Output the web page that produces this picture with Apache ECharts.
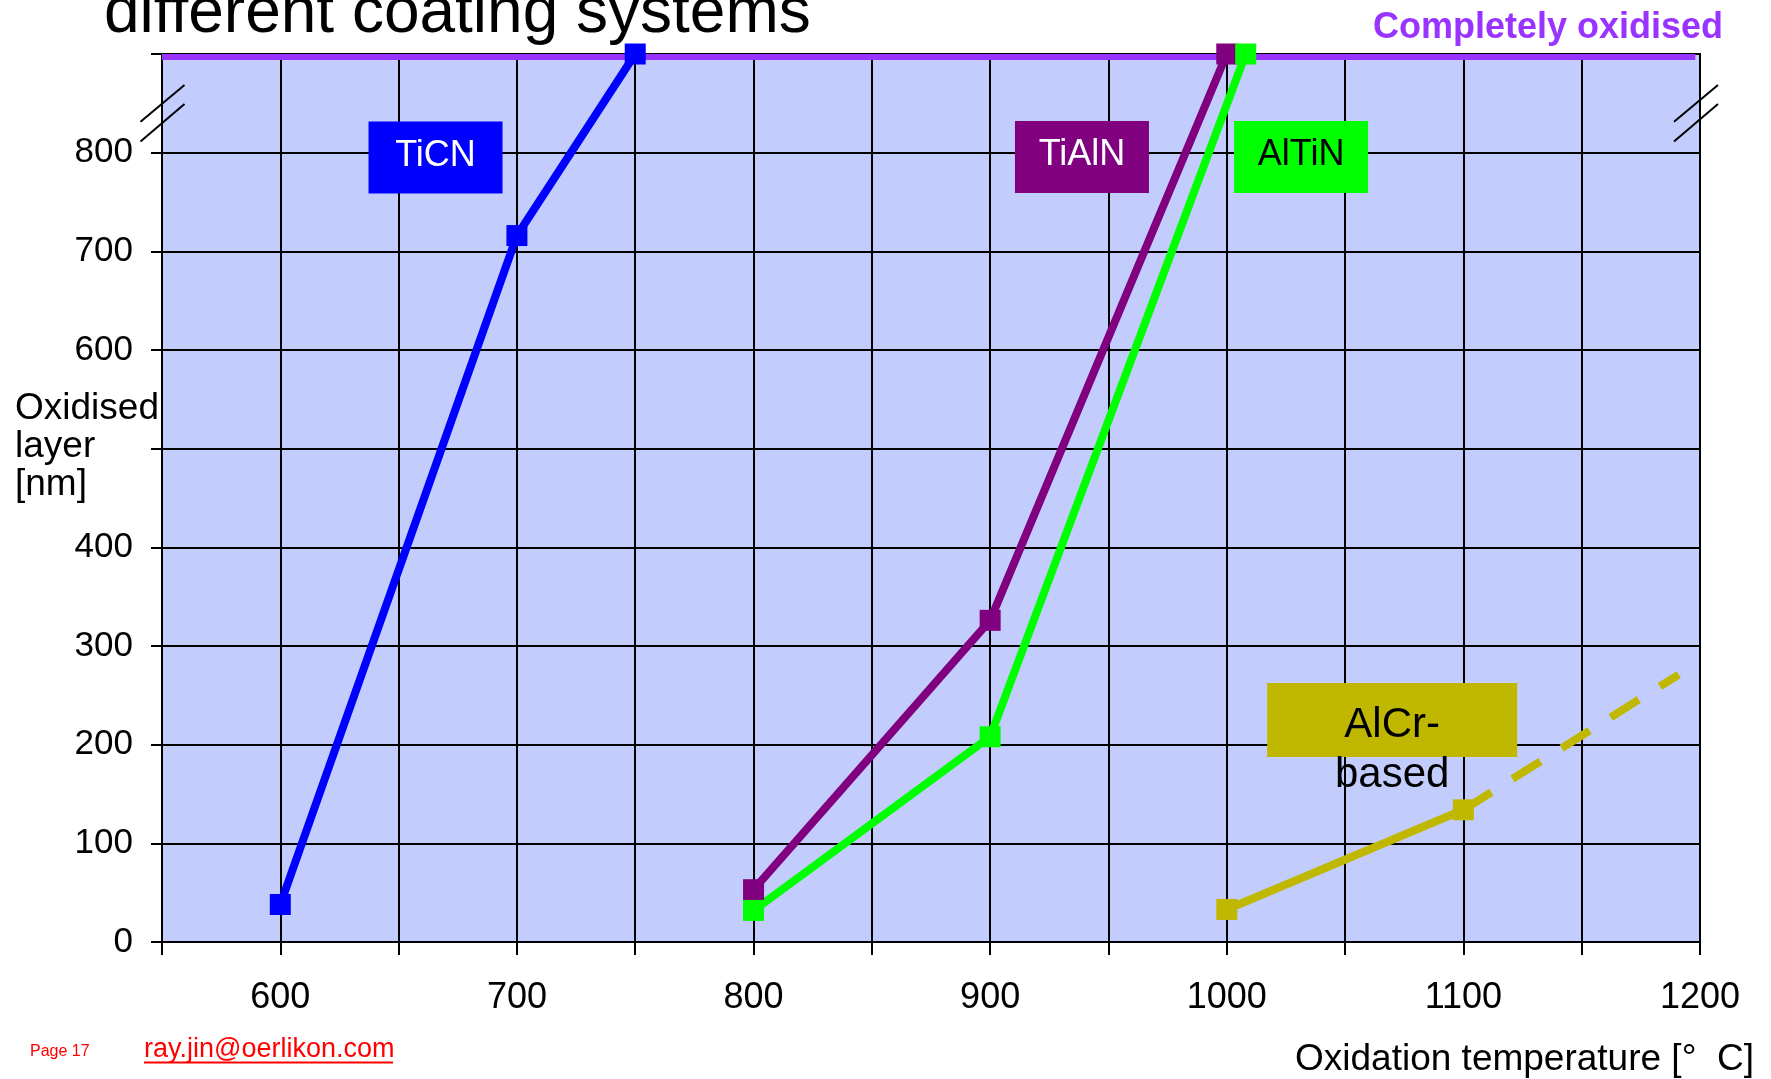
<!DOCTYPE html>
<html>
<head>
<meta charset="utf-8">
<script src="https://cdn.jsdelivr.net/npm/echarts@6/dist/echarts.min.js"></script>
<style>
  html, body { margin: 0; padding: 0; background: #ffffff; }
  #chart { width: 1771px; height: 1079px; }
</style>
</head>
<body>
<div id="chart"></div>
<script>
// Oxidation temperature (°C) against oxidised layer thickness (nm) for each coating
const ticnTemp = [600, 700, 750];
const ticnLayer = [38, 716, 900];
const tialnTemp = [800, 900, 1000];
const tialnLayer = [53, 326, 900];
const altinTemp = [800, 900, 1008];
const altinLayer = [32, 208, 900];
const alcrTemp = [1000, 1100];
const alcrLayer = [33, 134];
// extrapolated AlCr trend, drawn dashed
const alcrTrendTemp = [1100, 1191];
const alcrTrendLayer = [134, 271];
// "Completely oxidised" limit line
const limitTemp = [550, 1198];
const limitLayer = [897, 897];
// tick labels that are printed on each axis
const xTickLabels = [600, 700, 800, 900, 1000, 1100, 1200];
const yTickLabels = [0, 100, 200, 300, 400, 600, 700, 800];
const coatingNames = ['TiCN', 'TiAlN', 'AlTiN', 'AlCr-\nbased'];

const FONT = '"Liberation Sans", Arial, Helvetica, sans-serif';
const pairs = (xs, ys) => xs.map((x, i) => [x, ys[i]]);

const chart = echarts.init(document.getElementById('chart'), null, { renderer: 'canvas' });

function coatingSeries(name, xs, ys, color) {
  return {
    name, type: 'line', data: pairs(xs, ys), clip: false, z: 3,
    symbol: 'rect', symbolSize: 21,
    itemStyle: { color },
    lineStyle: { color, width: 8, cap: 'butt', join: 'miter' }
  };
}

chart.setOption({
  animation: false,
  backgroundColor: '#ffffff',
  grid: {
    left: 162, right: 71, top: 54, bottom: 137,
    show: true, backgroundColor: '#C2CDFD', borderColor: '#000000', borderWidth: 2
  },
  xAxis: {
    type: 'value', min: 550, max: 1200, interval: 50,
    axisLine: { show: true, lineStyle: { color: '#000', width: 2 } },
    axisTick: { show: true, inside: false, length: 13, lineStyle: { color: '#000', width: 2 } },
    splitLine: { show: true, lineStyle: { color: '#000', width: 2 } },
    axisLabel: {
      show: true, showMinLabel: true, showMaxLabel: true,
      fontSize: 36, fontFamily: FONT, color: '#000', margin: 38,
      formatter: v => (xTickLabels.includes(v) ? String(v) : '')
    }
  },
  yAxis: {
    type: 'value', min: 0, max: 900, interval: 100,
    axisLine: { show: true, lineStyle: { color: '#000', width: 2 } },
    axisTick: { show: true, inside: false, length: 11, lineStyle: { color: '#000', width: 2 } },
    splitLine: { show: true, lineStyle: { color: '#000', width: 2 } },
    axisLabel: {
      show: true, showMinLabel: true, showMaxLabel: true,
      fontSize: 35, fontFamily: FONT, color: '#000', margin: 29,
      formatter: v => (yTickLabels.includes(v) ? String(v) : '')
    }
  },
  series: [
    {
      name: 'Completely oxidised', type: 'line', data: pairs(limitTemp, limitLayer),
      clip: false, z: 2, symbol: 'none',
      lineStyle: { color: '#9933FF', width: 6, cap: 'butt' }
    },
    coatingSeries('TiCN', ticnTemp, ticnLayer, '#0000FF'),
    coatingSeries('TiAlN', tialnTemp, tialnLayer, '#800080'),
    coatingSeries('AlTiN', altinTemp, altinLayer, '#00FF00'),
    {
      name: 'AlCr-based trend', type: 'line', data: pairs(alcrTrendTemp, alcrTrendLayer),
      clip: false, z: 3, symbol: 'none',
      lineStyle: { color: '#C0B800', width: 8, type: [33, 25], cap: 'butt' }
    },
    coatingSeries('AlCr-based', alcrTemp, alcrLayer, '#C0B800')
  ]
});

// Annotations: coating name boxes, axis break marks and captions
const px = (x, y) => chart.convertToPixel({ gridIndex: 0 }, [x, y]);

const boxes = [
  { at: [665.6, 795], w: 134, h: 72, fill: '#0000FF', text: '#FFFFFF', size: 36, dy: -2, lh: 36 },
  { at: [938.8, 795.6], w: 134, h: 72, fill: '#800080', text: '#FFFFFF', size: 36, dy: -2, lh: 36 },
  { at: [1031.4, 795.6], w: 134, h: 72, fill: '#00FF00', text: '#000000', size: 36, dy: -2, lh: 36 },
  { at: [1069.9, 224.9], w: 250, h: 74, fill: '#C0B800', text: '#000000', size: 42, dy: 30, lh: 50 }
];

const graphics = [];
boxes.forEach((b, i) => {
  const c = px(b.at[0], b.at[1]);
  graphics.push({
    type: 'rect', z: 20,
    shape: { x: c[0] - b.w / 2, y: c[1] - b.h / 2, width: b.w, height: b.h },
    style: { fill: b.fill }
  });
  graphics.push({
    type: 'text', z: 21, x: c[0], y: c[1] + b.dy,
    style: {
      text: coatingNames[i], fill: b.text, font: `${b.size}px ${FONT}`,
      align: 'center', verticalAlign: 'middle', lineHeight: b.lh
    }
  });
});

// axis break marks ("//") on both sides of the plot, between 800 and 900
const leftBreak = px(550, 840);
const rightBreak = px(1200, 840);
[[leftBreak[0] + 0.5, leftBreak[1]], [rightBreak[0] - 4, rightBreak[1]]].forEach(([cx, cy]) => {
  [[8.5, -28.2], [28.2, -9.2]].forEach(([y1, y2]) => {
    graphics.push({
      type: 'line', z: 22,
      shape: { x1: cx - 22, y1: cy + y1, x2: cx + 22, y2: cy + y2 },
      style: { stroke: '#000', lineWidth: 2 }
    });
  });
});

// title (runs off the top edge), limit caption, axis names, footer
graphics.push(
  {
    type: 'text', z: 30, x: 104, y: 14,
    style: { text: 'different coating systems', fill: '#000', font: `64px ${FONT}`, align: 'left', verticalAlign: 'middle' }
  },
  {
    type: 'text', z: 30, x: 1723, y: 28,
    style: { text: 'Completely oxidised', fill: '#9933FF', font: `bold 36px ${FONT}`, align: 'right', verticalAlign: 'middle' }
  },
  {
    type: 'text', z: 30, x: 15, y: 447,
    style: { text: 'Oxidised\nlayer\n[nm]', fill: '#000', font: `37px ${FONT}`, align: 'left', verticalAlign: 'middle', lineHeight: 38 }
  },
  {
    type: 'text', z: 30, x: 1754, y: 1060,
    style: { text: 'Oxidation temperature [°  C]', fill: '#000', font: `37px ${FONT}`, align: 'right', verticalAlign: 'middle' }
  },
  {
    type: 'text', z: 30, x: 30, y: 1052,
    style: { text: 'Page 17', fill: '#FF0000', font: `16px ${FONT}`, align: 'left', verticalAlign: 'middle' }
  },
  {
    type: 'text', z: 30, x: 144, y: 1050,
    style: { text: 'ray.jin@oerlikon.com', fill: '#FF0000', font: `27px ${FONT}`, align: 'left', verticalAlign: 'middle' }
  },
  {
    type: 'line', z: 30,
    shape: { x1: 144, y1: 1062.5, x2: 393, y2: 1062.5 },
    style: { stroke: '#FF0000', lineWidth: 2 }
  }
);

chart.setOption({ graphic: graphics });
</script>
</body>
</html>
